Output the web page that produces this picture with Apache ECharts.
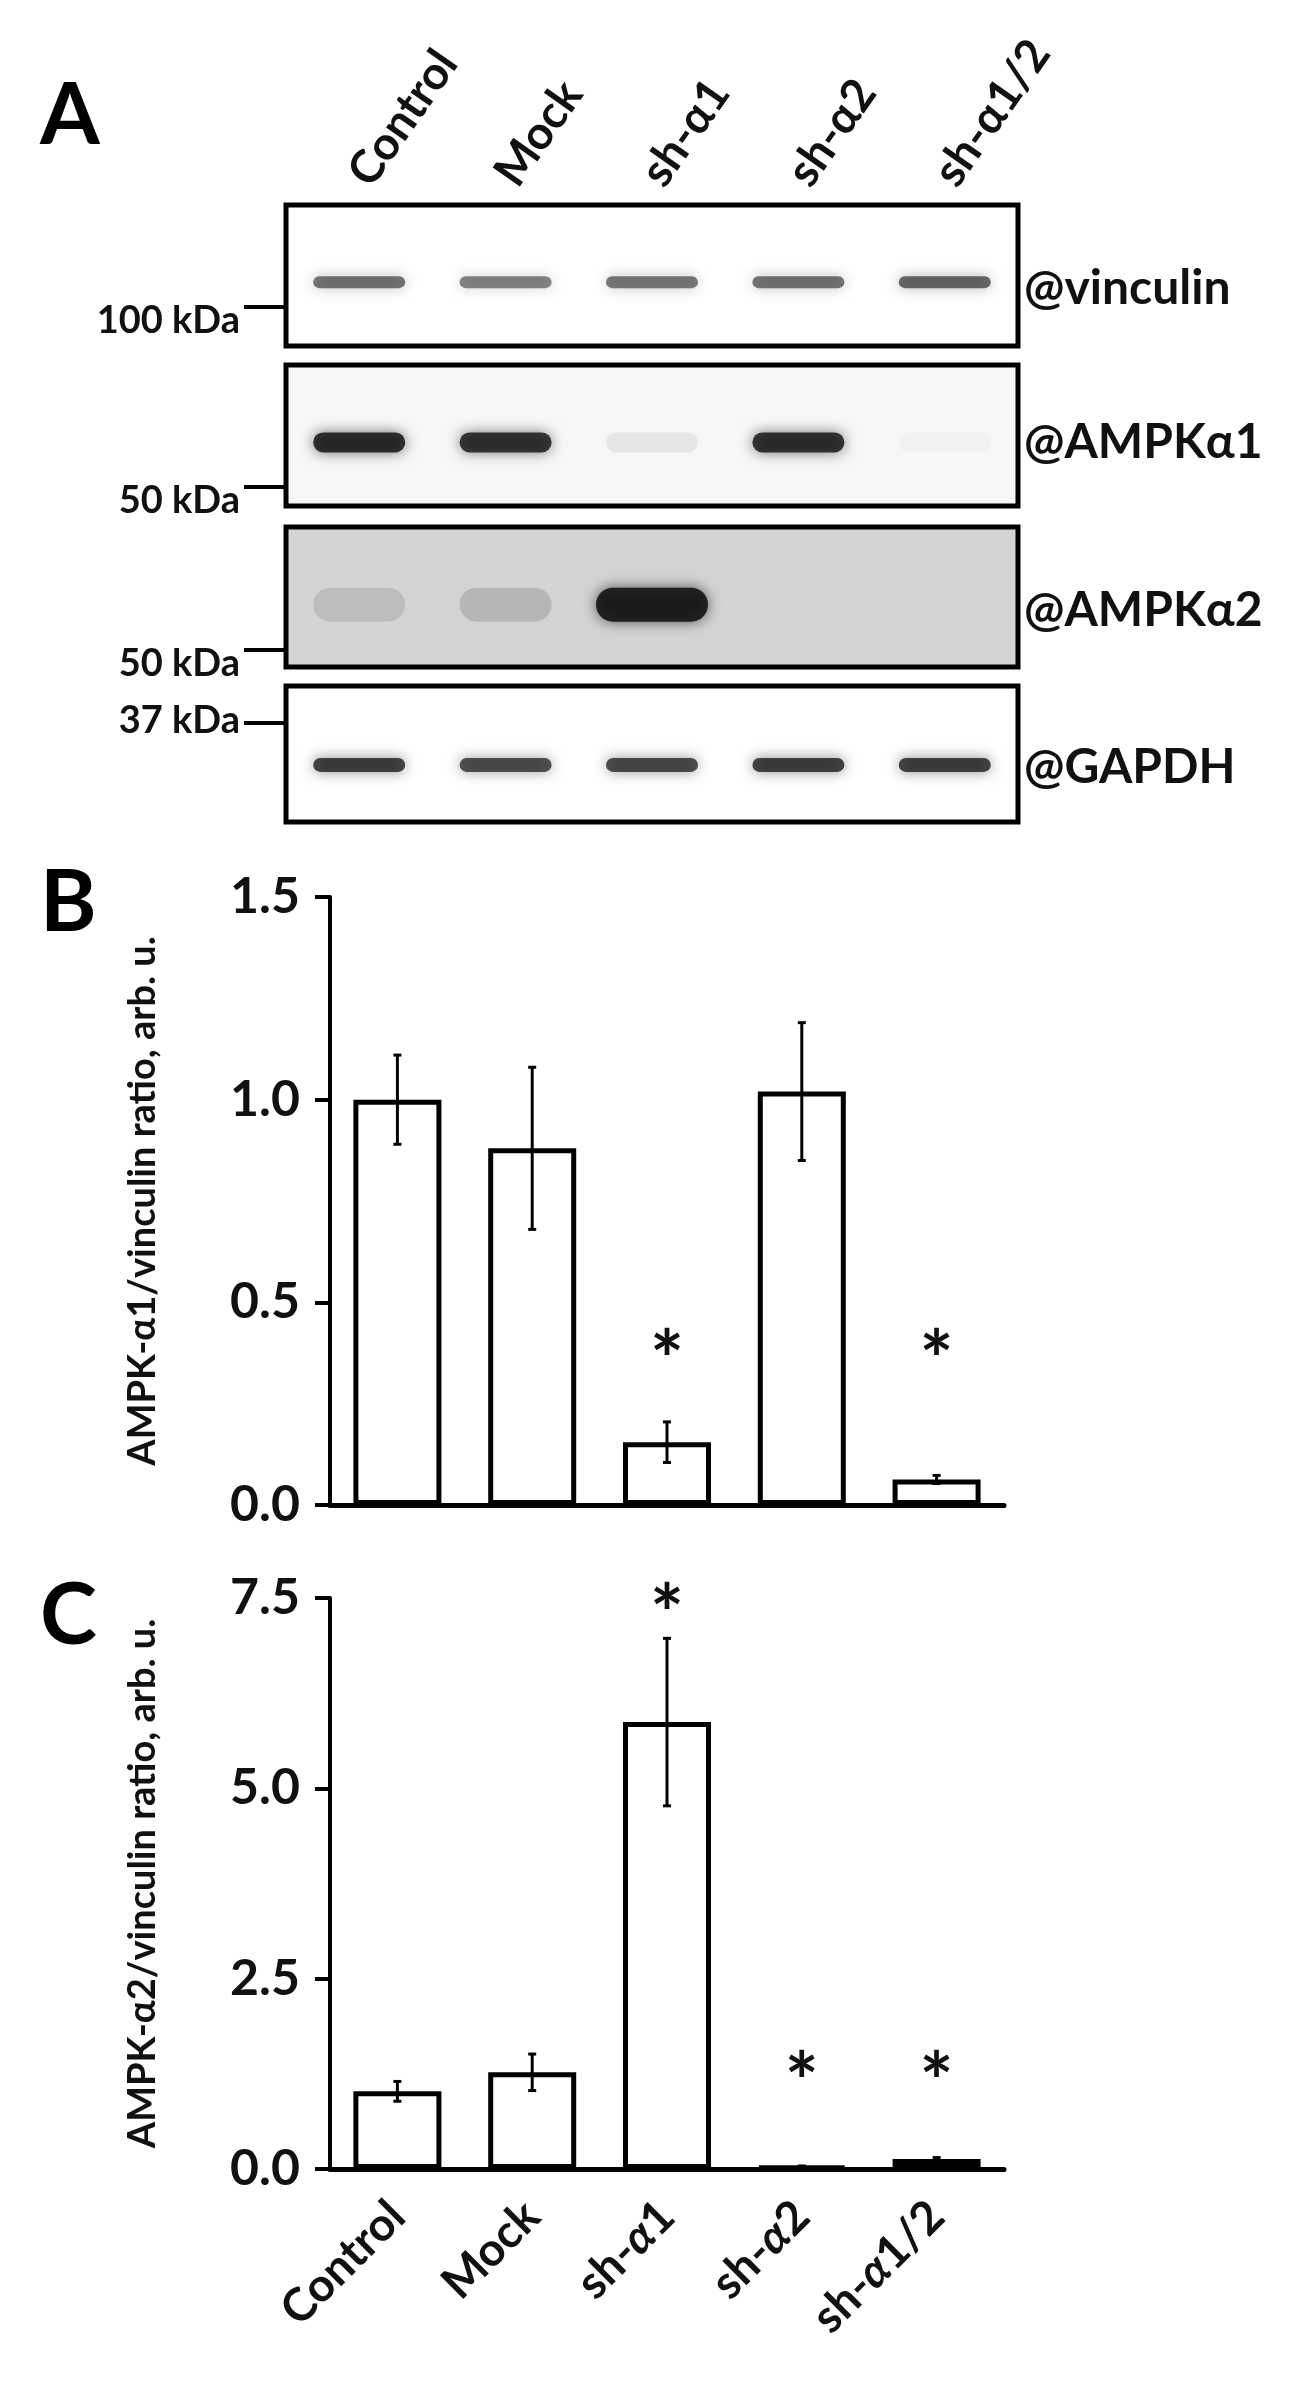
<!DOCTYPE html>
<html>
<head>
<meta charset="utf-8">
<script src="https://cdn.jsdelivr.net/npm/echarts@6/dist/echarts.min.js"></script>
<style>
html,body{margin:0;padding:0;background:#fff}
#MyChart{width:1306px;height:2408px}
</style>
</head>
<body>
<div id="MyChart"></div>
<script>
// groups
var lanes = ['Control', 'Mock', 'sh-α1', 'sh-α2', 'sh-α1/2'];
var laneLabelsC = ['Control', 'Mock', 'sh-{i|α}1', 'sh-{i|α}2', 'sh-{i|α}1/2'];
// blot rows and band darkness (0..1) per lane
var blotRows = ['@vinculin', '@AMPKα1', '@AMPKα2', '@GAPDH'];
var bandVinculin = [0.62, 0.55, 0.6, 0.62, 0.68];
var bandAmpk1 = [0.95, 0.9, 0.08, 0.92, 0.03];
var bandAmpk2 = [0.12, 0.16, 1.0, 0, 0];
var bandGapdh = [0.85, 0.78, 0.8, 0.85, 0.85];
var kdaLabels = ['100 kDa', '50 kDa', '50 kDa', '37 kDa'];
// panel B: AMPK-a1 / vinculin
var meanB = [1.0, 0.88, 0.155, 1.02, 0.063];
var errB = [0.11, 0.2, 0.05, 0.17, 0.01];
var starB = [null, null, 0.37, null, 0.37];
// panel C: AMPK-a2 / vinculin
var meanC = [1.02, 1.27, 5.87, 0.03, 0.13];
var errC = [0.13, 0.24, 1.1, 0.01, 0.02];
var starC = [null, null, 7.35, 1.2, 1.2];
var fillC = ['#fff', '#fff', '#fff', '#fff', '#808080'];

var FONT = 'Lato';
var bandLists = [bandVinculin, bandAmpk1, bandAmpk2, bandGapdh];
var bandThick = [12, 20, 34, 14];
var bandShift = [0, 6, 14, 20];
var blotData = [];
for (let r = 0; r < 4; r++) {
	for (let i = 0; i < 5; i++) {
		if (bandLists[r][i] > 0) blotData.push([i, r + 0.5, bandLists[r][i], r]);
	}
}

function errData(mean, err) {
	return mean.map(function (m, i) { return [i, m - err[i], m + err[i]]; });
}
function starData(st) {
	let a = [];
	st.forEach(function (s, i) { if (s != null) a.push([i, s]); });
	return a;
}
function errRender(params, api) {
	let x = api.coord([api.value(0), api.value(1)])[0];
	let lo = api.coord([api.value(0), api.value(1)])[1];
	let hi = api.coord([api.value(0), api.value(2)])[1];
	let st = { stroke: '#000', lineWidth: 3 };
	return { type: 'group', children: [
		{ type: 'line', shape: { x1: x, y1: lo, x2: x, y2: hi }, style: st },
		{ type: 'line', shape: { x1: x - 4, y1: lo, x2: x + 4, y2: lo }, style: st },
		{ type: 'line', shape: { x1: x - 4, y1: hi, x2: x + 4, y2: hi }, style: st }
	] };
}
function starRender(params, api) {
	let p = api.coord([api.value(0), api.value(1)]);
	return { type: 'text', x: p[0], y: p[1] + 8, style: { text: '*', font: 'bold 80px ' + FONT, fill: '#111', align: 'center', verticalAlign: 'middle' } };
}
function bandRender(params, api) {
	let p = api.coord([api.value(0), api.value(1)]);
	let r = api.value(3);
	let a = api.value(2);
	let h = bandThick[r];
	let w = r == 2 && a > 0.5 ? 112 : 92;
	return { type: 'rect', shape: { x: p[0] - w / 2, y: p[1] + bandShift[r] - h / 2, width: w, height: h, r: h / 2 },
		style: { fill: 'rgba(20,20,20,' + a * 0.9 + ')', shadowBlur: 14, shadowColor: 'rgba(0,0,0,' + a * 0.7 + ')' } };
}

var axisBase = {
	axisLine: { show: true, lineStyle: { color: '#000', width: 4 } },
	axisTick: { show: true, length: 15, lineStyle: { color: '#000', width: 4 } },
	splitLine: { show: false }
};

// blot frames, kDa markers, row names, panel letters
var boxes = [[286, 205, 141, '#fff'], [286, 365, 141, '#f7f7f7'], [286, 527, 140, '#d4d4d4'], [286, 686, 136, '#fff']];
var kdaY = [307, 487, 650, 723];
var rowNameY = [289, 443, 611, 768];
var g = [];
boxes.forEach(function (b, i) {
	g.push({ type: 'rect', z: 1, shape: { x: b[0], y: b[1], width: 732, height: b[2] }, style: { fill: b[3], stroke: '#000', lineWidth: 5 } });
	g.push({ type: 'line', z: 1, shape: { x1: 244, y1: kdaY[i], x2: 286, y2: kdaY[i] }, style: { stroke: '#000', lineWidth: 4 } });
	g.push({ type: 'text', z: 1, x: 240, y: kdaY[i] + (i == 3 ? -2 : 14), style: { text: kdaLabels[i], font: 'bold 38px ' + FONT, fill: '#111', align: 'right', verticalAlign: 'middle' } });
	g.push({ type: 'text', z: 1, x: 1024, y: rowNameY[i], style: { text: blotRows[i], font: 'bold 48px ' + FONT, fill: '#111', align: 'left', verticalAlign: 'middle' } });
});
[['A', 40, 116], ['B', 40, 903], ['C', 40, 1616]].forEach(function (l) {
	g.push({ type: 'text', x: l[1], y: l[2], style: { text: l[0], font: 'bold 86px ' + FONT, fill: '#000', verticalAlign: 'middle' } });
});

option = {
	backgroundColor: '#fff',
	animation: false,
	textStyle: { fontFamily: FONT },
	graphic: g,
	grid: [
		{ left: 286, width: 732, top: 205, height: 617 },
		{ left: 330, right: 302, top: 897, height: 608 },
		{ left: 330, right: 302, top: 1598, height: 571 }
	],
	xAxis: [
		{ gridIndex: 0, type: 'category', data: lanes, position: 'top', axisLine: { show: false }, axisTick: { show: false },
			axisLabel: { rotate: 55, margin: 24, fontSize: 46, fontWeight: 'bold', color: '#111', fontFamily: FONT } },
		{ gridIndex: 1, type: 'category', data: lanes, axisLine: { lineStyle: { color: '#000', width: 5 } }, axisTick: { show: false }, axisLabel: { show: false } },
		{ gridIndex: 2, type: 'category', data: laneLabelsC, axisLine: { lineStyle: { color: '#000', width: 5 } }, axisTick: { show: false },
			axisLabel: { rotate: 45, margin: 40, fontSize: 46, fontWeight: 'bold', color: '#111', fontFamily: FONT, rich: { i: { fontStyle: 'italic', fontSize: 46, fontWeight: 'bold', fontFamily: FONT } } } }
	],
	yAxis: [
		{ gridIndex: 0, type: 'value', min: 0, max: 4, inverse: true, show: false },
		Object.assign({ gridIndex: 1, type: 'value', min: 0, max: 1.5, interval: 0.5,
			name: 'AMPK-α1/vinculin ratio, arb. u.', nameLocation: 'middle', nameGap: 168,
			nameTextStyle: { fontSize: 38, fontWeight: 'bold', color: '#111', fontFamily: FONT },
			axisLabel: { margin: 30, fontSize: 50, fontWeight: 'bold', color: '#111', fontFamily: FONT, formatter: function (v) { return v.toFixed(1); } } }, axisBase),
		Object.assign({ gridIndex: 2, type: 'value', min: 0, max: 7.5, interval: 2.5,
			name: 'AMPK-α2/vinculin ratio, arb. u.', nameLocation: 'middle', nameGap: 168,
			nameTextStyle: { fontSize: 38, fontWeight: 'bold', color: '#111', fontFamily: FONT },
			axisLabel: { margin: 30, fontSize: 50, fontWeight: 'bold', color: '#111', fontFamily: FONT, formatter: function (v) { return v.toFixed(1); } } }, axisBase)
	],
	series: [
		{ type: 'custom', xAxisIndex: 0, yAxisIndex: 0, z: 5, renderItem: bandRender, data: blotData },
		{ type: 'bar', xAxisIndex: 1, yAxisIndex: 1, data: meanB, barWidth: 88,
			itemStyle: { color: '#fff', borderColor: '#000', borderWidth: 5 } },
		{ type: 'custom', xAxisIndex: 1, yAxisIndex: 1, z: 4, renderItem: errRender, data: errData(meanB, errB) },
		{ type: 'custom', xAxisIndex: 1, yAxisIndex: 1, z: 4, renderItem: starRender, data: starData(starB) },
		{ type: 'bar', xAxisIndex: 2, yAxisIndex: 2, barWidth: 88,
			data: meanC.map(function (v, i) { return { value: v, itemStyle: { color: fillC[i] } }; }),
			itemStyle: { borderColor: '#000', borderWidth: 5 } },
		{ type: 'custom', xAxisIndex: 2, yAxisIndex: 2, z: 4, renderItem: errRender, data: errData(meanC, errC) },
		{ type: 'custom', xAxisIndex: 2, yAxisIndex: 2, z: 4, renderItem: starRender, data: starData(starC) }
	]
};
var myChart = echarts.init(document.getElementById('MyChart'));
myChart.setOption(option);
</script>
</body>
</html>
